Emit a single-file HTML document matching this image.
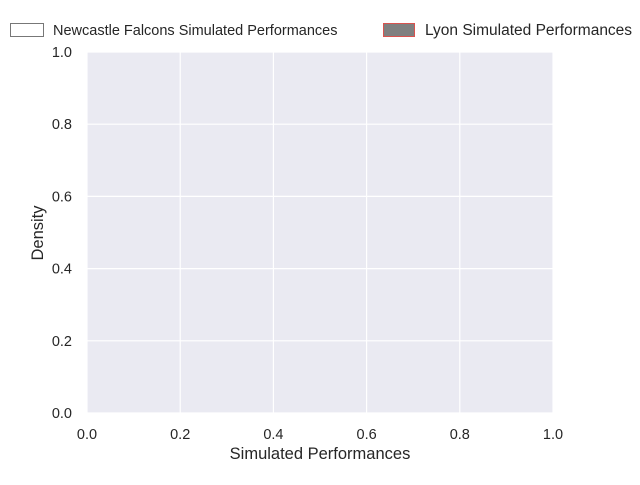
<!DOCTYPE html>
<html><head><meta charset="utf-8"><style>
body{margin:0;background:#fff;}
svg text{font-family:"Liberation Sans",Arial,sans-serif;fill:#262626;}
</style></head><body>
<svg id="chart" width="640" height="480">
<rect x="87" y="52" width="466" height="361" fill="#eaeaf2"/>
<g id="grid"></g><g id="xt"></g><g id="yt"></g>
<text x="320" y="459" font-size="16.5" text-anchor="middle">Simulated Performances</text>
<text transform="translate(43,233) rotate(-90)" font-size="16.5" text-anchor="middle">Density</text>
<g>
<rect x="10.5" y="23.5" width="33" height="13" fill="#fff" stroke="#777"/>
<text x="53" y="35" font-size="14.5">Newcastle Falcons Simulated Performances</text>
</g>
<g>
<rect x="383.5" y="23.5" width="31" height="13" fill="#808080" stroke="#d9534f" stroke-width="1"/>
<text x="425" y="35" font-size="15.5">Lyon Simulated Performances</text>
</g>
</svg>
<script>
const xTicks=[0,0.2,0.4,0.6,0.8,1.0];
const yTicks=[0,0.2,0.4,0.6,0.8,1.0];
const xLabels=["0.0","0.2","0.4","0.6","0.8","1.0"];
const yLabels=["0.0","0.2","0.4","0.6","0.8","1.0"];
const X0=87,X1=553,Y0=413,Y1=52;
function sx(v){return X0+(X1-X0)*v;}
function sy(v){return Y0-(Y0-Y1)*v;}
const ns="http://www.w3.org/2000/svg";
const g=document.getElementById('grid'),gx=document.getElementById('xt'),gy=document.getElementById('yt');
xTicks.forEach((v,i)=>{
 const l=document.createElementNS(ns,'line');
 l.setAttribute('x1',sx(v));l.setAttribute('x2',sx(v));l.setAttribute('y1',Y1);l.setAttribute('y2',Y0);
 l.setAttribute('stroke','#fff');l.setAttribute('stroke-width','1.2');
 
 
 g.appendChild(l);
 const t=document.createElementNS(ns,'text');
 t.setAttribute('x',sx(v));t.setAttribute('y',439);t.setAttribute('font-size','14.5');t.setAttribute('text-anchor','middle');
 t.textContent=xLabels[i];
 
 
 gx.appendChild(t);
});
yTicks.forEach((v,i)=>{
 const l=document.createElementNS(ns,'line');
 l.setAttribute('x1',X0);l.setAttribute('x2',X1);l.setAttribute('y1',sy(v));l.setAttribute('y2',sy(v));
 l.setAttribute('stroke','#fff');l.setAttribute('stroke-width','1.2');
 
 
 g.appendChild(l);
 const t=document.createElementNS(ns,'text');
 t.setAttribute('x',72);t.setAttribute('y',sy(v)+5);t.setAttribute('font-size','14.5');t.setAttribute('text-anchor','end');
 t.textContent=yLabels[i];
 
 
 gy.appendChild(t);
});
</script>
</body></html>
